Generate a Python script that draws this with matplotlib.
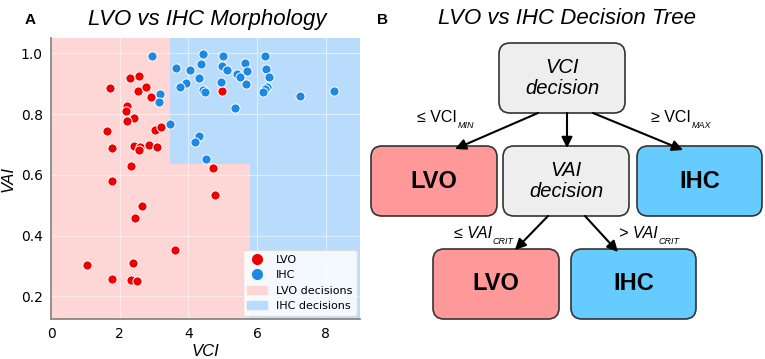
import matplotlib.pyplot as plt
import numpy as np
from matplotlib.patches import FancyBboxPatch, Patch
from matplotlib.lines import Line2D

# scatter data
lvo_vci = [1.72, 2.30, 2.56, 2.54, 2.77, 2.91, 2.22, 2.18, 2.43, 2.20, 1.62, 3.04, 3.21,
           1.78, 2.42, 2.59, 2.55, 2.84, 3.10, 2.32, 4.73, 4.99,
           1.78, 4.79, 2.66, 2.45, 3.60, 1.04, 2.38, 1.79, 2.32, 2.50]
lvo_vai = [0.885, 0.918, 0.925, 0.876, 0.890, 0.857, 0.827, 0.810, 0.787, 0.779, 0.745, 0.749, 0.759,
           0.687, 0.695, 0.693, 0.682, 0.700, 0.692, 0.630, 0.624, 0.878,
           0.580, 0.533, 0.498, 0.459, 0.353, 0.303, 0.309, 0.257, 0.254, 0.250]
ihc_vci = [2.93, 3.64, 4.05, 4.42, 4.38, 4.31, 3.92, 3.76, 3.17, 3.14, 3.47, 5.00, 4.98, 5.14,
           4.94, 4.44, 4.48, 5.65, 5.72, 5.41, 5.50, 5.68, 5.37, 6.24, 6.26, 6.36, 6.28, 6.23,
           6.18, 7.25, 8.25, 4.31, 4.20, 4.51]
ihc_vai = [0.992, 0.953, 0.946, 0.997, 0.965, 0.918, 0.904, 0.888, 0.866, 0.839, 0.768, 0.992, 0.959, 0.945,
           0.906, 0.879, 0.872, 0.967, 0.941, 0.932, 0.923, 0.901, 0.820, 0.992, 0.950, 0.923, 0.890, 0.882,
           0.874, 0.859, 0.878, 0.728, 0.709, 0.652]

# decision thresholds
VCI_MIN = 3.47
VCI_MAX = 5.80
VAI_CRIT = 0.637

RED = '#ee0000'
BLUE = '#1e88e5'
PINK = '#ffd6d6'
LBLUE = '#b9dcfd'


def main():
    fig = plt.figure(figsize=(7.65, 3.59), dpi=100)
    ax = fig.add_axes([0.0667, 0.1114, 0.4039, 0.7819])
    x0, x1, y0, y1 = 0, 9, 0.125, 1.05

    ax.fill_between([x0, VCI_MIN], y0, y1, color=PINK, lw=0, zorder=0.2)
    ax.fill_between([VCI_MIN, VCI_MAX], y0, VAI_CRIT, color=PINK, lw=0, zorder=0.2)
    ax.fill_between([VCI_MIN, VCI_MAX], VAI_CRIT, y1, color=LBLUE, lw=0, zorder=0.2)
    ax.fill_between([VCI_MAX, x1], y0, y1, color=LBLUE, lw=0, zorder=0.2)

    ax.scatter(lvo_vci, lvo_vai, s=44, c=RED, edgecolors='white', linewidths=0.7, zorder=3)
    ax.scatter(ihc_vci, ihc_vai, s=44, c=BLUE, edgecolors='white', linewidths=0.7, zorder=3)

    ax.set_xlim(x0, x1)
    ax.set_ylim(y0, y1)
    ax.set_xticks([0, 2, 4, 6, 8])
    ax.set_yticks([0.2, 0.4, 0.6, 0.8, 1.0])
    ax.grid(color='white', alpha=0.5, lw=0.8)
    ax.set_axisbelow(True)
    ax.tick_params(labelsize=10, length=0, pad=6)
    for s in ['top', 'right']:
        ax.spines[s].set_visible(False)
    for s in ['left', 'bottom']:
        ax.spines[s].set_color('#888888')
        ax.spines[s].set_linewidth(1.3)
    ax.set_xlabel('VCI', fontsize=12, style='italic', family='Liberation Sans', labelpad=2)
    ax.set_ylabel('VAI', fontsize=12, style='italic', family='Liberation Sans', labelpad=4)

    handles = [Line2D([], [], marker='o', ls='', color=RED, markersize=7, label='LVO'),
               Line2D([], [], marker='o', ls='', color=BLUE, markersize=7, label='IHC'),
               Patch(color=PINK, label='LVO decisions'),
               Patch(color=LBLUE, label='IHC decisions')]
    leg = ax.legend(handles=handles, loc='lower right', fontsize=8, framealpha=0.85,
                    borderaxespad=0.3, handlelength=1.8, labelspacing=0.5)
    leg.get_frame().set_edgecolor('#dddddd')

    fig.text(30 / 765, 1 - 20 / 359, 'A', fontsize=11, weight='bold', family='Liberation Sans',
             ha='center', va='center')
    fig.text(207 / 765, 1 - 19 / 359, 'LVO vs IHC Morphology', fontsize=16, style='italic',
             family='Liberation Sans', ha='center', va='center')

    # decision tree, drawn in pixel coordinates
    tr = fig.add_axes([0, 0, 1, 1])
    tr.set_xlim(0, 765)
    tr.set_ylim(359, 0)
    tr.axis('off')
    fig.text(383 / 765, 1 - 20 / 359, 'B', fontsize=11, weight='bold', family='Liberation Sans',
             ha='center', va='center')
    fig.text(567 / 765, 1 - 19 / 359, 'LVO vs IHC Decision Tree', fontsize=16, style='italic',
             family='Liberation Sans', ha='center', va='center')

    boxes = [
        (499, 43, 126, 70, '#eeeeee', 'VCI\ndecision', 'italic', 'normal', 14.5),
        (371, 146, 126, 70, '#ff9999', 'LVO', 'normal', 'bold', 17),
        (503, 146, 126, 70, '#eeeeee', 'VAI\ndecision', 'italic', 'normal', 14.5),
        (637, 146, 125, 70, '#66ccff', 'IHC', 'normal', 'bold', 17),
        (433, 249, 126, 70, '#ff9999', 'LVO', 'normal', 'bold', 17),
        (571, 249, 125, 70, '#66ccff', 'IHC', 'normal', 'bold', 17),
    ]
    for bx, by, bw, bh, fc, txt, st, wt, fs in boxes:
        tr.add_patch(FancyBboxPatch((bx, by), bw, bh, boxstyle='round,pad=0,rounding_size=11',
                                    fc=fc, ec='#333333', lw=1.2))
        tr.text(bx + bw / 2, by + bh / 2, txt, ha='center', va='center', fontsize=fs,
                style=st, weight=wt, family='Liberation Sans', linespacing=1.15)

    arrows = [((538, 113), (455, 149)), ((567, 113), (567, 148)), ((593, 113), (683, 150)),
              ((548, 216), (515, 250)), ((585, 216), (618, 252))]
    for start, end in arrows:
        tr.annotate('', xy=end, xytext=start,
                    arrowprops=dict(arrowstyle='-|>', color='black', lw=1.5,
                                    mutation_scale=16, shrinkA=0, shrinkB=0))

    labels = [(457, 117, '≤ VCI', 'normal', 'MIN'), (691, 117, '≥ VCI', 'normal', 'MAX'),
              (492, 234, '≤ VAI', 'italic', 'CRIT'), (658, 234, '> VAI', 'italic', 'CRIT')]
    for lx, ly, main_txt, st, sub in labels:
        tr.text(lx, ly, main_txt, ha='right', va='center', fontsize=11.5, style=st,
                family='Liberation Sans')
        tr.text(lx + 0.5, ly + 8, sub, ha='left', va='center', fontsize=6.5, style='italic',
                family='Liberation Sans')

    fig.savefig('out.png', dpi=100)


if __name__ == "__main__":
    main()
